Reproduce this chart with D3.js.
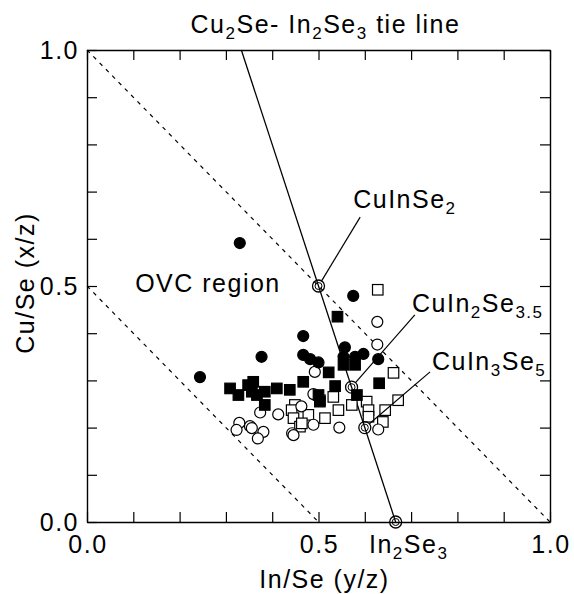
<!DOCTYPE html>
<html>
<head>
<meta charset="utf-8">
<script src="https://cdn.jsdelivr.net/npm/d3@7"></script>
<style>
  body { margin: 0; background: #fff; }
  text { font-family: "Liberation Sans", Arial, sans-serif; fill: #000; letter-spacing: 1.5px; }
</style>
</head>
<body>
<div id="viz"></div>
<script>
const width = 574;
const height = 594;
const margin = {top: 50, right: 24, bottom: 72, left: 87};
const fontSize = 25;
const subSize = 17;

// [In/Se, Cu/Se]
const filledCircles = [
  [0.244, 0.307], [0.330, 0.591], [0.377, 0.350], [0.467, 0.394], [0.467, 0.354],
  [0.482, 0.345], [0.500, 0.338], [0.557, 0.370], [0.554, 0.350], [0.579, 0.350],
  [0.597, 0.356], [0.629, 0.345], [0.575, 0.479]
];
const filledSquares = [
  [0.309, 0.283], [0.327, 0.269], [0.348, 0.290], [0.359, 0.297], [0.356, 0.276],
  [0.367, 0.269], [0.384, 0.276], [0.384, 0.248], [0.410, 0.283], [0.438, 0.280],
  [0.467, 0.297], [0.500, 0.269], [0.522, 0.317], [0.541, 0.435], [0.554, 0.333],
  [0.579, 0.333], [0.631, 0.294], [0.536, 0.288], [0.503, 0.255], [0.583, 0.269]
];
const openCircles = [
  [0.374, 0.232], [0.413, 0.228], [0.329, 0.210], [0.323, 0.195], [0.352, 0.203],
  [0.356, 0.199], [0.381, 0.191], [0.369, 0.177], [0.443, 0.188], [0.446, 0.184],
  [0.489, 0.206], [0.492, 0.318], [0.463, 0.245], [0.489, 0.271], [0.545, 0.200],
  [0.629, 0.196], [0.627, 0.424], [0.627, 0.376]
];
const openSquares = [
  [0.449, 0.248], [0.442, 0.237], [0.446, 0.220], [0.460, 0.202], [0.478, 0.227],
  [0.514, 0.220], [0.503, 0.258], [0.628, 0.492], [0.662, 0.316], [0.672, 0.258],
  [0.644, 0.237], [0.639, 0.212], [0.604, 0.255], [0.608, 0.237], [0.608, 0.223],
  [0.572, 0.248], [0.543, 0.237], [0.532, 0.265], [0.464, 0.209]
];

// compounds on the Cu2Se-In2Se3 tie line
const compounds = ['CuInSe2', 'CuIn2Se3.5', 'CuIn3Se5', 'In2Se3'];
const compoundInSe = [0.5, 2 / 3.5, 0.6, 2 / 3];
const compoundCuSe = [0.5, 1 / 3.5, 0.2, 0];
// label anchor (start of text) and callout end, in data units
const labelAt = [[0.575, 0.665], [0.702, 0.445], [0.745, 0.322], [0.609, -0.066]];
const calloutEnd = [[0.590, 0.646], [0.708, 0.439], [0.741, 0.318], null];
// text pieces: [text, isSubscript]
const labelParts = [
  [['CuInSe', 0], ['2', 1]],
  [['CuIn', 0], ['2', 1], ['Se', 0], ['3.5', 1]],
  [['CuIn', 0], ['3', 1], ['Se', 0], ['5', 1]],
  [['In', 0], ['2', 1], ['Se', 0], ['3', 1]]
];
const titleParts = [['Cu', 0], ['2', 1], ['Se- In', 0], ['2', 1], ['Se', 0], ['3', 1], [' tie line', 0]];

const tieLine = [[1 / 3, 1], [2 / 3, 0]];
const dashedLines = [[[0, 1], [1, 0]], [[0, 0.5], [0.5, 0]]];

const tickValues = [0, 0.1, 0.2, 0.3, 0.4, 0.5, 0.6, 0.7, 0.8, 0.9, 1.0];
const tickLabels = [0, 0.5, 1.0];

const svg = d3.select('#viz')
  .append('svg')
  .attr('width', width)
  .attr('height', height);

const x = d3.scaleLinear()
  .domain([0, 1])
  .range([margin.left, width - margin.right]);

const y = d3.scaleLinear()
  .domain([0, 1])
  .range([height - margin.bottom, margin.top]);

// frame with inward ticks on all sides
const tickLen = 10;
const fmt = d3.format('.1f');

svg.append('g')
  .attr('transform', `translate(0, ${y(0)})`)
  .call(d3.axisBottom(x).tickValues(tickValues).tickSizeInner(-tickLen).tickSizeOuter(0).tickFormat(''));
svg.append('g')
  .attr('transform', `translate(0, ${y(1)})`)
  .call(d3.axisTop(x).tickValues(tickValues).tickSizeInner(-tickLen).tickSizeOuter(0).tickFormat(''));
svg.append('g')
  .attr('transform', `translate(${x(0)}, 0)`)
  .call(d3.axisLeft(y).tickValues(tickValues).tickSizeInner(-tickLen).tickSizeOuter(0).tickFormat(''));
svg.append('g')
  .attr('transform', `translate(${x(1)}, 0)`)
  .call(d3.axisRight(y).tickValues(tickValues).tickSizeInner(-tickLen).tickSizeOuter(0).tickFormat(''));

svg.selectAll('.domain').attr('stroke', '#000').attr('stroke-width', 1.4);
svg.selectAll('.tick line').attr('stroke', '#000').attr('stroke-width', 1.2);

// tick labels
svg.append('g')
  .selectAll('text')
  .data(tickLabels)
  .join('text')
    .attr('x', d => x(d) + 1)
    .attr('y', y(0) + 31)
    .attr('text-anchor', 'middle')
    .style('font-size', fontSize + 'px')
    .text(fmt);

svg.append('g')
  .selectAll('text')
  .data(tickLabels)
  .join('text')
    .attr('x', x(0) - 8)
    .attr('y', d => y(d) + 9)
    .attr('text-anchor', 'end')
    .style('font-size', fontSize + 'px')
    .text(fmt);

// axis titles
svg.append('text')
  .attr('x', (x(0) + x(1)) / 2 + 6)
  .attr('y', 588)
  .attr('text-anchor', 'middle')
  .style('font-size', fontSize + 'px')
  .text('In/Se (y/z)');

svg.append('text')
  .attr('transform', `translate(34, ${(y(0) + y(1)) / 2 - 3}) rotate(-90)`)
  .attr('text-anchor', 'middle')
  .style('font-size', fontSize + 'px')
  .text('Cu/Se (x/z)');

// reference lines
const line = d3.line().x(d => x(d[0])).y(d => y(d[1]));

svg.append('g')
  .selectAll('path')
  .data(dashedLines)
  .join('path')
    .attr('d', line)
    .attr('fill', 'none')
    .attr('stroke', '#000')
    .attr('stroke-width', 1.2)
    .attr('stroke-dasharray', '4,5');

svg.append('path')
  .attr('d', line(tieLine))
  .attr('fill', 'none')
  .attr('stroke', '#000')
  .attr('stroke-width', 1.3);

// data markers
const r = 5.5;
const side = 10.5;

const addCircles = (data, fill) => {
  svg.append('g')
    .selectAll('circle')
    .data(data)
    .join('circle')
      .attr('cx', d => x(d[0]))
      .attr('cy', d => y(d[1]))
      .attr('r', r)
      .attr('fill', fill)
      .attr('stroke', '#000')
      .attr('stroke-width', 1.2);
};

const addSquares = (data, fill) => {
  svg.append('g')
    .selectAll('rect')
    .data(data)
    .join('rect')
      .attr('x', d => x(d[0]) - side / 2)
      .attr('y', d => y(d[1]) - side / 2)
      .attr('width', side)
      .attr('height', side)
      .attr('fill', fill)
      .attr('stroke', '#000')
      .attr('stroke-width', 1.2);
};

addSquares(openSquares, '#fff');
addCircles(openCircles, '#fff');
addSquares(filledSquares, '#000');
addCircles(filledCircles, '#000');

// tie line compounds: double rings, callouts and labels
const comp = svg.append('g')
  .selectAll('g')
  .data(compounds)
  .join('g');

comp.append('circle')
  .attr('cx', (d, i) => x(compoundInSe[i]))
  .attr('cy', (d, i) => y(compoundCuSe[i]))
  .attr('r', 6)
  .attr('fill', 'none')
  .attr('stroke', '#000')
  .attr('stroke-width', 1.3);

comp.append('circle')
  .attr('cx', (d, i) => x(compoundInSe[i]))
  .attr('cy', (d, i) => y(compoundCuSe[i]))
  .attr('r', 3.5)
  .attr('fill', 'none')
  .attr('stroke', '#000')
  .attr('stroke-width', 1);

comp.filter((d, i) => calloutEnd[i] !== null)
  .append('line')
  .each(function(d) {
    const i = compounds.indexOf(d);
    const x0 = x(compoundInSe[i]), y0 = y(compoundCuSe[i]);
    const x1 = x(calloutEnd[i][0]), y1 = y(calloutEnd[i][1]);
    const len = Math.hypot(x1 - x0, y1 - y0);
    d3.select(this)
      .attr('x1', x0 + (x1 - x0) * 6 / len)
      .attr('y1', y0 + (y1 - y0) * 6 / len)
      .attr('x2', x1)
      .attr('y2', y1)
      .attr('stroke', '#000')
      .attr('stroke-width', 1.2);
  });

const writeParts = (sel, parts) => {
  parts.forEach((p, k) => {
    const prevSub = k > 0 && parts[k - 1][1];
    sel.append('tspan')
      .attr('dy', p[1] ? 6 : (prevSub ? -6 : 0))
      .style('font-size', (p[1] ? subSize : fontSize) + 'px')
      .text(p[0]);
  });
};

comp.append('text')
  .attr('x', (d, i) => x(labelAt[i][0]))
  .attr('y', (d, i) => y(labelAt[i][1]))
  .each(function(d, i) { writeParts(d3.select(this), labelParts[i]); });

// title and region label
const title = svg.append('text')
  .attr('x', (x(0) + x(1)) / 2 + 7)
  .attr('y', 33)
  .attr('text-anchor', 'middle');
writeParts(title, titleParts);

svg.append('text')
  .attr('x', x(0.104))
  .attr('y', y(0.487))
  .style('font-size', fontSize + 'px')
  .text('OVC region');
</script>
</body>
</html>
